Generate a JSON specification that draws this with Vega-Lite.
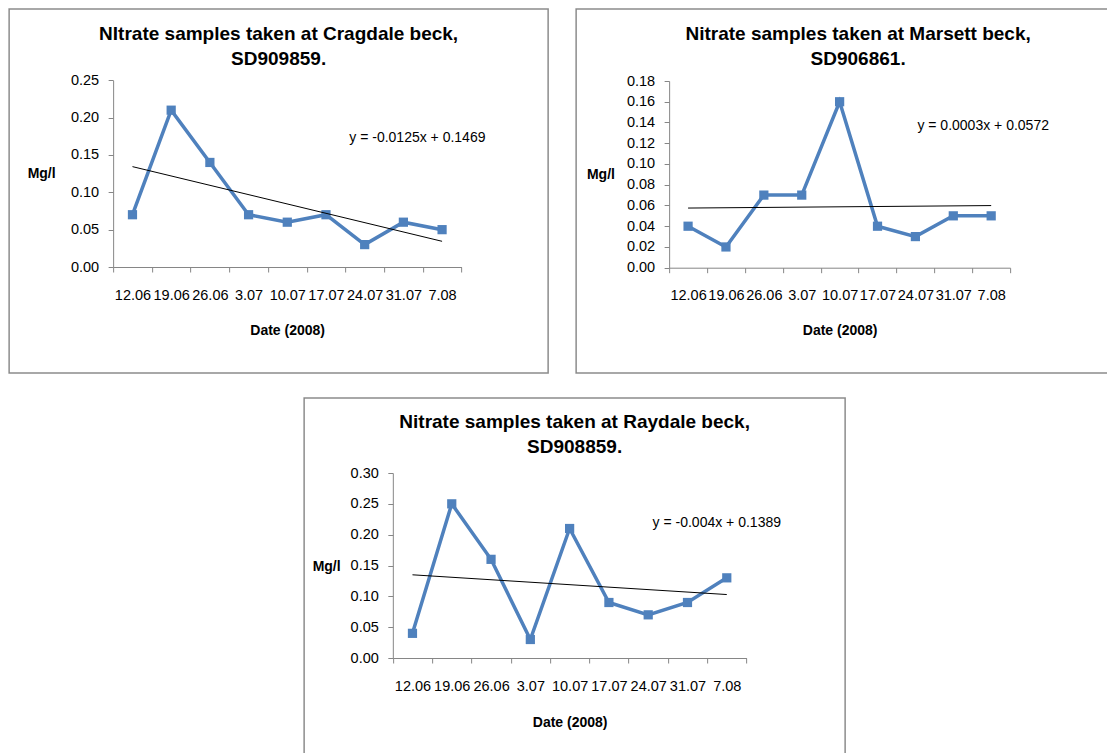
{
  "$schema": "https://vega.github.io/schema/vega-lite/v6.json",
  "padding": {"left": 8, "top": 8, "right": 0, "bottom": 0},
  "background": "white",
  "datasets": {
    "samples": [
      {"site": "Cragdale", "date": "12.06", "value": 0.07},
      {"site": "Cragdale", "date": "19.06", "value": 0.21},
      {"site": "Cragdale", "date": "26.06", "value": 0.14},
      {"site": "Cragdale", "date": "3.07", "value": 0.07},
      {"site": "Cragdale", "date": "10.07", "value": 0.06},
      {"site": "Cragdale", "date": "17.07", "value": 0.07},
      {"site": "Cragdale", "date": "24.07", "value": 0.03},
      {"site": "Cragdale", "date": "31.07", "value": 0.06},
      {"site": "Cragdale", "date": "7.08", "value": 0.05},
      {"site": "Marsett", "date": "12.06", "value": 0.04},
      {"site": "Marsett", "date": "19.06", "value": 0.02},
      {"site": "Marsett", "date": "26.06", "value": 0.07},
      {"site": "Marsett", "date": "3.07", "value": 0.07},
      {"site": "Marsett", "date": "10.07", "value": 0.16},
      {"site": "Marsett", "date": "17.07", "value": 0.04},
      {"site": "Marsett", "date": "24.07", "value": 0.03},
      {"site": "Marsett", "date": "31.07", "value": 0.05},
      {"site": "Marsett", "date": "7.08", "value": 0.05},
      {"site": "Raydale", "date": "12.06", "value": 0.04},
      {"site": "Raydale", "date": "19.06", "value": 0.25},
      {"site": "Raydale", "date": "26.06", "value": 0.16},
      {"site": "Raydale", "date": "3.07", "value": 0.03},
      {"site": "Raydale", "date": "10.07", "value": 0.21},
      {"site": "Raydale", "date": "17.07", "value": 0.09},
      {"site": "Raydale", "date": "24.07", "value": 0.07},
      {"site": "Raydale", "date": "31.07", "value": 0.09},
      {"site": "Raydale", "date": "7.08", "value": 0.13}
    ],
    "trends": [
      {"site": "Cragdale", "date": "12.06", "value": 0.1344},
      {"site": "Cragdale", "date": "7.08", "value": 0.0344},
      {"site": "Marsett", "date": "12.06", "value": 0.0575},
      {"site": "Marsett", "date": "7.08", "value": 0.0599},
      {"site": "Raydale", "date": "12.06", "value": 0.1349},
      {"site": "Raydale", "date": "7.08", "value": 0.1029}
    ],
    "equations": [
      {"site": "Cragdale", "label": "y = -0.0125x + 0.1469"},
      {"site": "Marsett", "label": "y = 0.0003x + 0.0572"},
      {"site": "Raydale", "label": "y = -0.004x + 0.1389"}
    ]
  },
  "vconcat": [
    {
      "hconcat": [
        {
          "width": 539,
          "height": 364,
          "title": {"text": ["NItrate samples taken at Cragdale beck,", "SD909859."], "offset": -60},
          "layer": [
            {
              "encoding": {
                "x": {"field": "date", "type": "ordinal", "sort": null,
                  "scale": {"type": "band", "range": [104, 452.3], "paddingInner": 0, "paddingOuter": 0},
                  "axis": {"title": "Date (2008)", "offset": -106, "titleX": 278, "titleY": 63}},
                "y": {"field": "value", "type": "quantitative",
                  "scale": {"domain": [0, 0.25], "range": [258, 71.3], "nice": false, "zero": false},
                  "axis": {"title": "Mg/l", "offset": -104, "values": [0, 0.05, 0.1, 0.15, 0.2, 0.25], "titleX": -72, "titleY": 164.5}}
              },
              "layer": [
                {"data": {"name": "samples"}, "transform": [{"filter": "datum.site === 'Cragdale'"}],
                  "mark": {"type": "line", "color": "#4F81BD", "strokeWidth": 3.5}},
                {"data": {"name": "samples"}, "transform": [{"filter": "datum.site === 'Cragdale'"}],
                  "mark": {"type": "point", "shape": "square", "filled": true, "size": 85, "color": "#4F81BD", "opacity": 1}},
                {"data": {"name": "trends"}, "transform": [{"filter": "datum.site === 'Cragdale'"}],
                  "mark": {"type": "line", "color": "#000000", "strokeWidth": 1}}
              ]
            },
            {"data": {"name": "equations"}, "transform": [{"filter": "datum.site === 'Cragdale'"}],
              "mark": {"type": "text", "fontSize": 14, "color": "#000000", "align": "center", "baseline": "middle", "dx": 14},
              "encoding": {"x": {"datum": "31.07", "type": "ordinal"}, "y": {"datum": 0.1727, "type": "quantitative"}, "text": {"field": "label", "type": "nominal"}}}
          ]
        },
        {
          "width": 564,
          "height": 364,
          "title": {"text": ["Nitrate samples taken at Marsett beck,", "SD906861."], "offset": -60},
          "layer": [
            {
              "encoding": {
                "x": {"field": "date", "type": "ordinal", "sort": null,
                  "scale": {"type": "band", "range": [93, 434], "paddingInner": 0, "paddingOuter": 0},
                  "axis": {"title": "Date (2008)", "offset": -105.3, "titleX": 263.5, "titleY": 62.3}},
                "y": {"field": "value", "type": "quantitative",
                  "scale": {"domain": [0, 0.18], "range": [258.7, 72], "nice": false, "zero": false},
                  "axis": {"title": "Mg/l", "offset": -93, "values": [0, 0.02, 0.04, 0.06, 0.08, 0.1, 0.12, 0.14, 0.16, 0.18], "titleX": -68.7, "titleY": 165.3}}
              },
              "layer": [
                {"data": {"name": "samples"}, "transform": [{"filter": "datum.site === 'Marsett'"}],
                  "mark": {"type": "line", "color": "#4F81BD", "strokeWidth": 3.5}},
                {"data": {"name": "samples"}, "transform": [{"filter": "datum.site === 'Marsett'"}],
                  "mark": {"type": "point", "shape": "square", "filled": true, "size": 85, "color": "#4F81BD", "opacity": 1}},
                {"data": {"name": "trends"}, "transform": [{"filter": "datum.site === 'Marsett'"}],
                  "mark": {"type": "line", "color": "#000000", "strokeWidth": 1}}
              ]
            },
            {"data": {"name": "equations"}, "transform": [{"filter": "datum.site === 'Marsett'"}],
              "mark": {"type": "text", "fontSize": 14, "color": "#000000", "align": "center", "baseline": "middle", "dx": -8},
              "encoding": {"x": {"datum": "7.08", "type": "ordinal"}, "y": {"datum": 0.1366, "type": "quantitative"}, "text": {"field": "label", "type": "nominal"}}}
          ]
        }
      ],
      "spacing": 26
    },
    {
      "width": 541,
      "height": 370,
      "title": {"text": ["Nitrate samples taken at Raydale beck,", "SD908859."], "offset": -59},
      "layer": [
        {
          "encoding": {
            "x": {"field": "date", "type": "ordinal", "sort": null,
              "scale": {"type": "band", "range": [88.7, 442.3], "paddingInner": 0, "paddingOuter": 0},
              "axis": {"title": "Date (2008)", "offset": -110, "titleX": 265.5, "titleY": 64}},
            "y": {"field": "value", "type": "quantitative",
              "scale": {"domain": [0, 0.3], "range": [260, 75], "nice": false, "zero": false},
              "axis": {"title": "Mg/l", "offset": -88.7, "values": [0, 0.05, 0.1, 0.15, 0.2, 0.25, 0.3], "titleX": -66.7, "titleY": 168}}
          },
          "layer": [
            {"data": {"name": "samples"}, "transform": [{"filter": "datum.site === 'Raydale'"}],
              "mark": {"type": "line", "color": "#4F81BD", "strokeWidth": 3.5}},
            {"data": {"name": "samples"}, "transform": [{"filter": "datum.site === 'Raydale'"}],
              "mark": {"type": "point", "shape": "square", "filled": true, "size": 85, "color": "#4F81BD", "opacity": 1}},
            {"data": {"name": "trends"}, "transform": [{"filter": "datum.site === 'Raydale'"}],
              "mark": {"type": "line", "color": "#000000", "strokeWidth": 1}}
          ]
        },
        {"data": {"name": "equations"}, "transform": [{"filter": "datum.site === 'Raydale'"}],
          "mark": {"type": "text", "fontSize": 14, "color": "#000000", "align": "center", "baseline": "middle", "dx": -10},
          "encoding": {"x": {"datum": "7.08", "type": "ordinal"}, "y": {"datum": 0.219, "type": "quantitative"}, "text": {"field": "label", "type": "nominal"}}}
      ]
    }
  ],
  "spacing": 23,
  "center": true,
  "config": {
    "font": "Liberation Sans",
    "view": {"stroke": "#8c8c8c", "strokeWidth": 1.5},
    "axis": {
      "domainColor": "#868686", "tickColor": "#868686", "tickSize": 5, "grid": false,
      "labelFont": "Liberation Sans", "labelFontSize": 14.5, "labelColor": "#000000",
      "titleFont": "Liberation Sans", "titleFontSize": 14, "titleFontWeight": "bold", "titleColor": "#000000",
      "titleAngle": 0, "titleAlign": "center", "titleBaseline": "middle"
    },
    "axisX": {"tickBand": "extent", "labelAngle": 0, "labelPadding": 23, "labelBaseline": "middle", "labelOverlap": false, "labelFlush": false},
    "axisY": {"labelPadding": 9.5, "format": ".2f", "labelOverlap": false},
    "title": {"font": "Liberation Sans", "fontSize": 19, "fontWeight": "bold", "color": "#000000", "anchor": "middle", "lineHeight": 25, "baseline": "alphabetic"}
  }
}
